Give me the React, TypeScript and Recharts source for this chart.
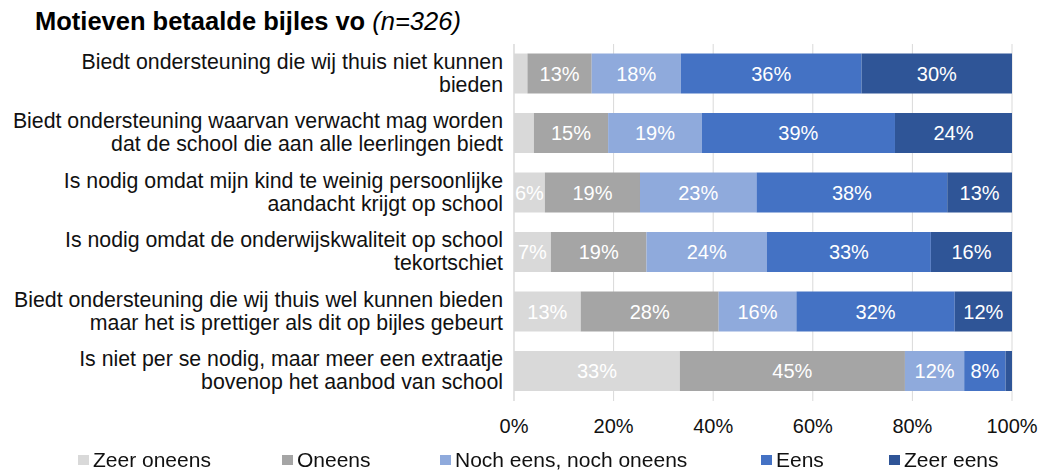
import { BarChart, Bar, XAxis, YAxis, CartesianGrid, LabelList } from "recharts";

const FONT = "'Liberation Sans', Arial, sans-serif";

// each category: two lines as they wrap in the original
const categories = [
  ["Biedt ondersteuning die wij thuis niet kunnen", "bieden"],
  ["Biedt ondersteuning waarvan verwacht mag worden", "dat de school die aan alle leerlingen biedt"],
  ["Is nodig omdat mijn kind te weinig persoonlijke", "aandacht krijgt op school"],
  ["Is nodig omdat de onderwijskwaliteit op school", "tekortschiet"],
  ["Biedt ondersteuning die wij thuis wel kunnen bieden", "maar het is prettiger als dit op bijles gebeurt"],
  ["Is niet per se nodig, maar meer een extraatje", "bovenop het aanbod van school"],
];

const zeerOneens = [2.7, 4.0, 6.2, 7.4, 13.4, 33.3];
const oneens = [12.9, 14.9, 19.1, 19.2, 27.7, 45.2];
const neutraal = [17.9, 18.8, 23.4, 24.2, 15.6, 11.9];
const eens = [36.3, 38.8, 38.3, 32.9, 31.8, 8.3];
const zeerEens = [30.2, 23.5, 13.0, 16.3, 11.5, 1.3];

const xTicks = [0, 20, 40, 60, 80, 100];

const series = [
  { key: "zeerOneens", name: "Zeer oneens", color: "#d9d9d9" },
  { key: "oneens", name: "Oneens", color: "#a5a5a5" },
  { key: "neutraal", name: "Noch eens, noch oneens", color: "#8faadc" },
  { key: "eens", name: "Eens", color: "#4472c4" },
  { key: "zeerEens", name: "Zeer eens", color: "#2f5597" },
];

const legendLeft = [78, 282, 440, 761, 889];

const data = categories.map((c, i) => ({
  cat: i,
  zeerOneens: zeerOneens[i],
  oneens: oneens[i],
  neutraal: neutraal[i],
  eens: eens[i],
  zeerEens: zeerEens[i],
}));

function CatTick({ x, y, payload }: any) {
  const lines = categories[payload.value];
  return (
    <text x={x} y={y} textAnchor="end" fontSize={21.3} fill="#111" fontFamily={FONT}>
      <tspan x={x} dy={-5}>{lines[0]}</tspan>
      <tspan x={x} dy={23}>{lines[1]}</tspan>
    </text>
  );
}

const fmt = (v: any) => (v >= 5 ? `${Math.round(v)}%` : "");

export default function App() {
  return (
    <div style={{ position: "fixed", left: 0, top: 0, width: 1043, height: 470, background: "#fff", fontFamily: FONT }}>
      <div style={{ position: "absolute", left: 35, top: 7, fontSize: 25.5, color: "#000", whiteSpace: "nowrap" }}>
        <b>Motieven betaalde bijles vo</b> <i>(n=326)</i>
      </div>
      <BarChart
        width={1043}
        height={470}
        data={data}
        layout="vertical"
        margin={{ top: 44, right: 31, bottom: 39, left: 0 }}
        barCategoryGap="16%"
      >
        <CartesianGrid horizontal={false} stroke="#d9d9d9" />
        <XAxis
          type="number"
          domain={[0, 100]}
          ticks={xTicks}
          tickFormatter={(v) => `${v}%`}
          axisLine={false}
          tickLine={false}
          tickSize={0}
          tickMargin={18}
          height={30}
          tick={{ fontSize: 20, fill: "#111", fontFamily: FONT }}
        />
        <YAxis
          type="category"
          dataKey="cat"
          width={514}
          axisLine={{ stroke: "#d9d9d9" }}
          tickLine={false}
          tickSize={0}
          tickMargin={11}
          tick={<CatTick />}
        />
        {series.map((s) => (
          <Bar key={s.key} dataKey={s.key} name={s.name} stackId="a" fill={s.color} isAnimationActive={false}>
            <LabelList
              dataKey={s.key}
              position="center"
              formatter={fmt}
              style={{ fill: "#fff", fontSize: 20, fontFamily: FONT }}
            />
          </Bar>
        ))}
      </BarChart>
      {series.map((s, i) => (
        <div
          key={s.key}
          style={{ position: "absolute", left: legendLeft[i], top: 448, display: "flex", alignItems: "center", fontSize: 21, color: "#111", whiteSpace: "nowrap" }}
        >
          <span style={{ display: "inline-block", width: 11, height: 10, background: s.color, marginRight: 4 }} />
          {s.name}
        </div>
      ))}
    </div>
  );
}
